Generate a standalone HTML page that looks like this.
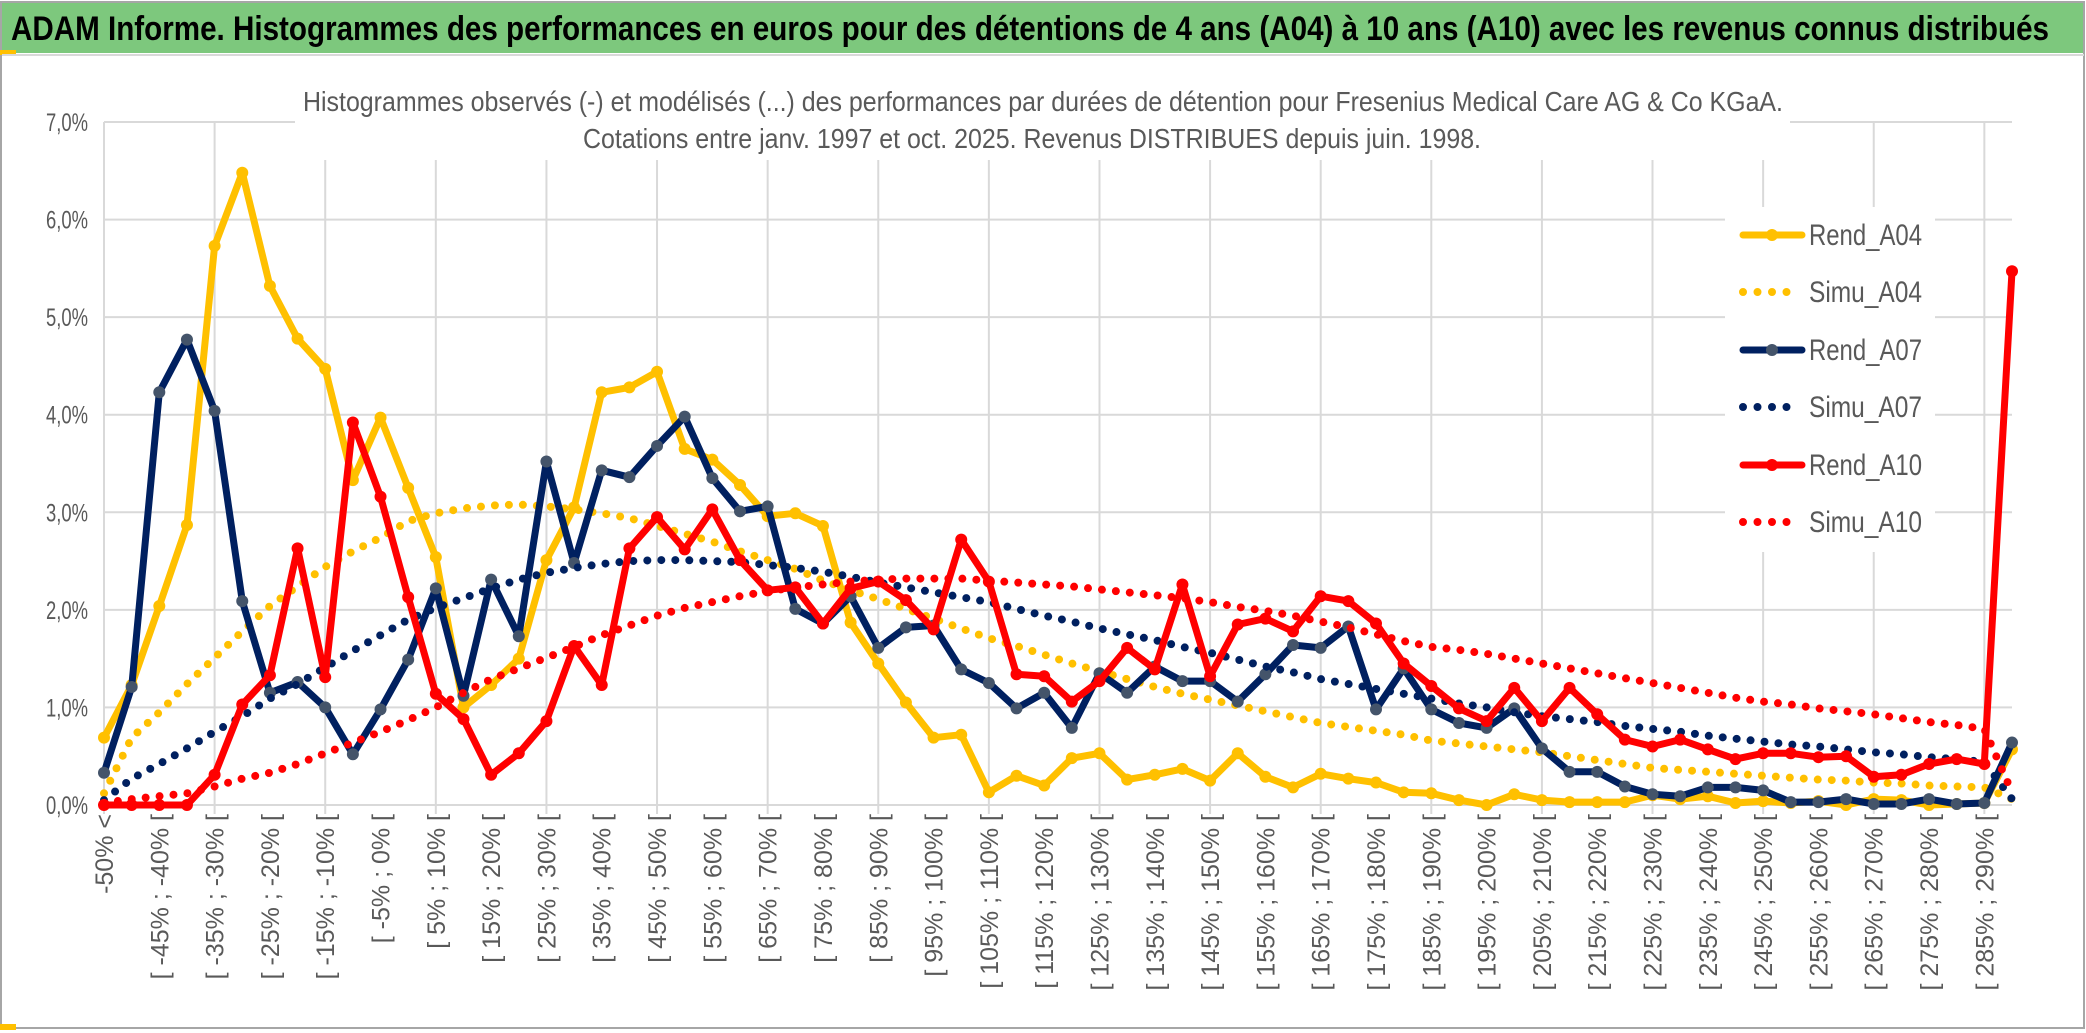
<!DOCTYPE html>
<html><head><meta charset="utf-8"><style>
html,body{margin:0;padding:0;background:#fff;}
svg{display:block;font-family:"Liberation Sans",sans-serif;}
</style></head><body>
<svg id="chart" width="2086" height="1033" viewBox="0 0 2086 1033" xmlns="http://www.w3.org/2000/svg">
<rect x="0" y="0" width="2086" height="1033" fill="#fff"/>
<rect x="1" y="2" width="2083" height="1026" fill="none" stroke="#a6a6a6" stroke-width="2"/>
<rect x="2" y="3" width="2081" height="50" fill="#7dc87d"/>
<rect x="0" y="50" width="16" height="5" fill="#ffc000"/>
<line x1="2" y1="55" x2="2084" y2="55" stroke="#d9d9d9" stroke-width="2"/>
<text x="11" y="40" font-size="34" font-weight="bold" fill="#000" textLength="2038" lengthAdjust="spacingAndGlyphs">ADAM Informe. Histogrammes des performances en euros pour des détentions de 4 ans (A04) à 10 ans (A10) avec les revenus connus distribués</text>
<g id="grid"></g>
<rect x="295" y="62" width="1495" height="98" fill="#fff"/>
<text x="303" y="111" font-size="28" fill="#595959" textLength="1480" lengthAdjust="spacingAndGlyphs">Histogrammes observés (-) et modélisés (...) des performances par durées de détention pour Fresenius Medical Care AG &amp; Co KGaA.</text>
<text x="583" y="148" font-size="28" fill="#595959" textLength="898" lengthAdjust="spacingAndGlyphs">Cotations entre janv. 1997 et oct. 2025. Revenus DISTRIBUES depuis juin. 1998.</text>
<g id="yticks"></g>
<g id="xticks"></g>
<g id="series"></g>
<g id="legend"></g>
<rect x="0" y="1024" width="16" height="6" fill="#ffc000"/>
</svg>
<script>
const rendA04 = [0.69,1.23,2.04,2.87,5.73,6.48,5.32,4.78,4.47,3.33,3.97,3.25,2.54,1.0,
1.23,1.50,2.51,3.05,4.23,4.28,4.44,3.65,3.54,3.28,2.96,2.99,2.86,1.87,1.45,
1.05,0.69,0.72,0.13,0.30,0.20,0.48,0.53,0.26,0.31,0.37,0.25,0.53,0.29,0.18,0.32,0.27,0.23,0.13,0.12,0.05,
0.0,0.11,0.05,0.03,0.03,0.03,0.10,0.06,0.09,0.02,0.04,0.02,0.04,0.0,0.06,0.05,0.0,0.01,0.02,0.57];
const rendA07 = [0.33,1.21,4.23,4.77,4.04,2.09,1.15,1.26,1.0,0.52,0.98,1.49,2.22,1.12,
2.31,1.73,3.52,2.48,3.43,3.36,3.68,3.98,3.35,3.01,3.06,2.01,1.86,2.14,1.61,
1.82,1.84,1.39,1.25,0.99,1.15,0.79,1.35,1.15,1.42,1.27,1.27,1.06,1.34,1.64,1.61,1.83,0.98,1.40,0.98,0.84,
0.79,0.99,0.58,0.34,0.34,0.19,0.11,0.09,0.18,0.18,0.15,0.03,0.03,0.06,0.01,0.01,0.06,0.01,0.02,0.64];
const rendA10 = [0,0,0,0,0.31,1.03,1.33,2.63,1.31,3.92,3.16,2.13,1.14,0.88,
0.31,0.53,0.86,1.63,1.23,2.63,2.95,2.62,3.03,2.51,2.20,2.23,1.86,2.22,2.29,
2.10,1.80,2.72,2.29,1.34,1.32,1.06,1.27,1.61,1.39,2.26,1.32,1.85,1.91,1.78,2.14,2.09,1.86,1.45,1.22,0.99,
0.86,1.20,0.86,1.20,0.93,0.67,0.60,0.67,0.57,0.47,0.53,0.53,0.49,0.50,0.29,0.31,0.42,0.47,0.42,5.47];
const simuA04 = [0.12,0.69,0.95,1.24,1.51,1.78,2.04,2.24,2.44,2.60,2.74,2.91,2.99,3.04,
3.07,3.08,3.06,3.03,2.99,2.94,2.86,2.78,2.70,2.60,2.51,2.42,2.30,2.20,2.11,
2.01,1.91,1.81,1.71,1.63,1.54,1.45,1.37,1.29,1.21,1.14,1.08,1.02,0.96,0.90,0.84,0.80,0.76,0.72,0.66,0.63,
0.60,0.57,0.54,0.50,0.46,0.42,0.38,0.36,0.34,0.32,0.30,0.28,0.26,0.25,0.23,0.22,0.20,0.19,0.18,0.06];
const simuA07 = [0.05,0.27,0.42,0.58,0.75,0.91,1.09,1.24,1.41,1.58,1.74,1.90,2.02,2.12,
2.22,2.31,2.38,2.43,2.47,2.50,2.51,2.51,2.50,2.49,2.46,2.43,2.39,2.34,2.28,
2.23,2.18,2.13,2.08,2.01,1.94,1.88,1.81,1.75,1.69,1.62,1.56,1.49,1.42,1.36,1.29,1.24,1.19,1.14,1.09,1.04,
1.00,0.95,0.91,0.88,0.85,0.81,0.78,0.75,0.71,0.68,0.65,0.62,0.60,0.57,0.54,0.52,0.49,0.47,0.44,0.06];
const simuA10 = [0.02,0.06,0.09,0.12,0.19,0.27,0.33,0.42,0.53,0.64,0.75,0.87,1.00,1.15,
1.29,1.40,1.51,1.62,1.74,1.84,1.94,2.02,2.08,2.14,2.19,2.23,2.26,2.29,2.31,
2.32,2.32,2.32,2.30,2.28,2.26,2.24,2.21,2.18,2.15,2.12,2.08,2.03,1.99,1.94,1.88,1.82,1.75,1.68,1.62,1.59,
1.55,1.50,1.45,1.40,1.35,1.30,1.25,1.20,1.15,1.10,1.06,1.03,0.99,0.96,0.93,0.89,0.85,0.82,0.78,0.13];
const yTickValues = [0,1,2,3,4,5,6,7];
const yTickLabels = ["0,0%","1,0%","2,0%","3,0%","4,0%","5,0%","6,0%","7,0%"];
const categoryLabels = ["-50% <"];
for (let k = 1; k < 70; k++) {
  const lo = -55 + 5 * k;
  categoryLabels.push("[ " + lo + "% ; " + (lo + 5) + "% [");
}
const seriesNames = ["Rend_A04","Simu_A04","Rend_A07","Simu_A07","Rend_A10","Simu_A10"];

const NS = "http://www.w3.org/2000/svg";
const X0 = 104, X1 = 2012, Y0 = 805, PER = 97.57;
const nCat = categoryLabels.length;
function xs(k){ return X0 + k * (X1 - X0) / (nCat - 1); }
function ys(v){ return Y0 - v * PER; }
function mk(tag, attrs, parent){ const e = document.createElementNS(NS, tag); for (const a in attrs) e.setAttribute(a, attrs[a]); parent.appendChild(e); return e; }

const grid = document.getElementById('grid');
yTickValues.forEach((v, i) => {
  const l = mk('line', {x1: X0, x2: X1, y1: ys(v), y2: ys(v), stroke: '#d9d9d9', 'stroke-width': 2}, grid);
  
  
});
for (let k = 0; k < nCat; k += 4) {
  const l = mk('line', {x1: xs(k), x2: xs(k), y1: ys(7), y2: Y0 + 9, stroke: '#d9d9d9', 'stroke-width': 2}, grid);
  
  
}
const yt = document.getElementById('yticks');
yTickValues.forEach((v, i) => {
  const t = mk('text', {x: 88, y: ys(v) + 9, 'text-anchor': 'end', 'font-size': 25, fill: '#595959', textLength: 42, lengthAdjust: 'spacingAndGlyphs'}, yt);
  t.textContent = yTickLabels[i];
  
  
});
const xt = document.getElementById('xticks');
categoryLabels.forEach((lab, k) => {
  if (k !== 0 && k % 2 !== 0) return;
  const x = xs(k) + 9, y = 814;
  const t = mk('text', {x: x, y: y, 'text-anchor': 'end', 'font-size': 25, fill: '#595959', transform: 'rotate(-90 ' + x + ' ' + y + ')'}, xt);
  t.textContent = lab;
  
  
});

const sg = document.getElementById('series');
function drawRend(data, color, mcolor, name){
  const pts = data.map((v, k) => xs(k).toFixed(1) + ',' + ys(v).toFixed(1)).join(' ');
  const pl = mk('polyline', {points: pts, fill: 'none', stroke: color, 'stroke-width': 7, 'stroke-linejoin': 'round', 'stroke-linecap': 'round'}, sg);
  
  
  data.forEach((v, k) => {
    const c = mk('circle', {cx: xs(k), cy: ys(v), r: 6, fill: mcolor}, sg);
    
    
  });
}
function drawSimu(data, color, name){
  const pts = data.map((v, k) => xs(k).toFixed(1) + ',' + ys(v).toFixed(1)).join(' ');
  const pl = mk('polyline', {points: pts, fill: 'none', stroke: color, 'stroke-width': 8, 'stroke-linecap': 'round', 'stroke-linejoin': 'round', 'stroke-dasharray': '0 14'}, sg);
  
  
}
drawRend(rendA04, '#ffc000', '#ffc000', 'rend-a04');
drawSimu(simuA04, '#ffc000', 'simu-a04');
drawRend(rendA07, '#002060', '#44546a', 'rend-a07');
drawSimu(simuA07, '#002060', 'simu-a07');
drawRend(rendA10, '#ff0000', '#ff0000', 'rend-a10');
drawSimu(simuA10, '#ff0000', 'simu-a10');

const lg = document.getElementById('legend');
const bg = mk('rect', {x: 1725, y: 207, width: 210, height: 345, fill: '#fff'}, lg);


const legY = [235, 292, 350, 407, 465, 522];
const legColor = ['#ffc000','#ffc000','#002060','#002060','#ff0000','#ff0000'];
const legMarker = ['#ffc000','#ffc000','#44546a','#002060','#ff0000','#ff0000'];
seriesNames.forEach((nm, i) => {
  const y = legY[i];
  const dotted = nm.startsWith('Simu');
  const g = mk('g', {}, lg);
  
  
  if (dotted) {
    mk('line', {x1: 1743, x2: 1800, y1: y, y2: y, stroke: legColor[i], 'stroke-width': 8, 'stroke-linecap': 'round', 'stroke-dasharray': '0 14.5'}, g);
  } else {
    mk('line', {x1: 1743, x2: 1802, y1: y, y2: y, stroke: legColor[i], 'stroke-width': 7, 'stroke-linecap': 'round'}, g);
    mk('circle', {cx: 1772, cy: y, r: 6, fill: legMarker[i]}, g);
  }
  const t = mk('text', {x: 1809, y: y + 10, 'font-size': 30, fill: '#595959', textLength: 113, lengthAdjust: 'spacingAndGlyphs'}, g);
  t.textContent = nm;
});
</script>
</body></html>
